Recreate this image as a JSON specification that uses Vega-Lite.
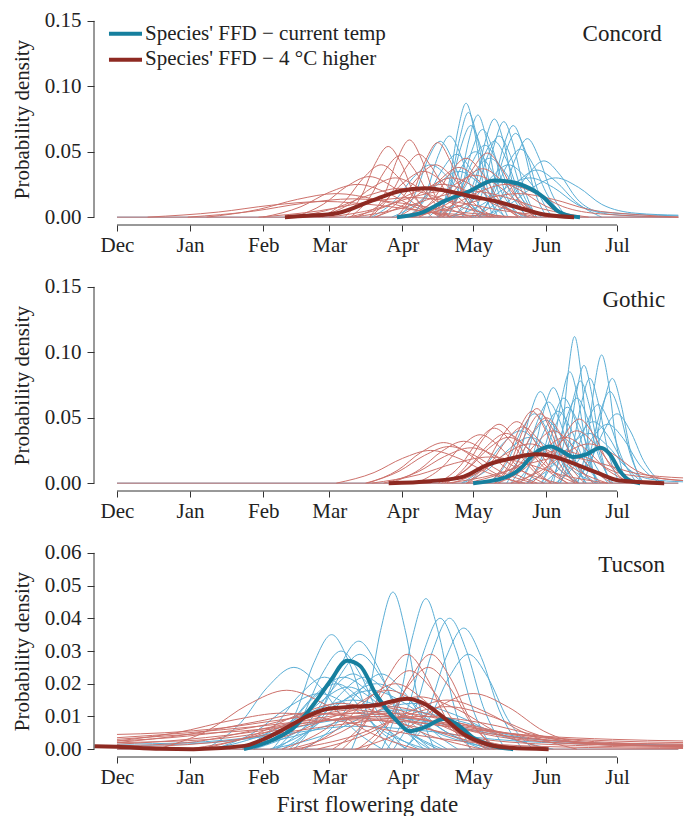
{
"$schema":"https://vega.github.io/schema/vega-lite/v6.json",
"padding":{"left":11,"top":9,"right":0,"bottom":0},
"config":{"view":{"stroke":null},"font":"Liberation Serif",
"axis":{"domain":false,"grid":false,"labelFont":"Liberation Serif","labelFontSize":21,"labelColor":"#222","tickColor":"#333","titleFont":"Liberation Serif","titleFontSize":21,"titleFontWeight":"normal","titleColor":"#222"},
"axisX":{"tickSize":6,"labelPadding":3},
"axisY":{"tickSize":7,"labelPadding":6,"titlePadding":12},
"text":{"font":"Liberation Serif","color":"#222"}},
"datasets":{
"C":[
{"s":"b0","x":0,"y":0},{"s":"b0","x":238,"y":0},{"s":"r0","x":0,"y":0},{"s":"r0","x":238,"y":0},
{"s":"b1","x":136.5,"y":0},{"s":"b1","x":141,"y":0.028},{"s":"b1","x":144.5,"y":0.066},{"s":"b1","x":148,"y":0.087},{"s":"b1","x":151.5,"y":0.066},{"s":"b1","x":155,"y":0.028},{"s":"b1","x":159.5,"y":0},
{"s":"b2","x":136.5,"y":0},{"s":"b2","x":141.5,"y":0.026},{"s":"b2","x":145.3,"y":0.06},{"s":"b2","x":149,"y":0.08},{"s":"b2","x":152.8,"y":0.06},{"s":"b2","x":156.5,"y":0.026},{"s":"b2","x":161.5,"y":0},
{"s":"b3","x":146.7,"y":0},{"s":"b3","x":152,"y":0.024},{"s":"b3","x":156,"y":0.057},{"s":"b3","x":160,"y":0.075},{"s":"b3","x":164,"y":0.057},{"s":"b3","x":168,"y":0.024},{"s":"b3","x":173.3,"y":0},
{"s":"b4","x":150.3,"y":0},{"s":"b4","x":155.8,"y":0.024},{"s":"b4","x":159.9,"y":0.055},{"s":"b4","x":164,"y":0.073},{"s":"b4","x":168.1,"y":0.055},{"s":"b4","x":172.3,"y":0.024},{"s":"b4","x":177.8,"y":0},
{"s":"b5","x":140,"y":0},{"s":"b5","x":146,"y":0.022},{"s":"b5","x":150.5,"y":0.051},{"s":"b5","x":155,"y":0.067},{"s":"b5","x":159.5,"y":0.051},{"s":"b5","x":164,"y":0.022},{"s":"b5","x":170,"y":0},
{"s":"b6","x":157.4,"y":0},{"s":"b6","x":164,"y":0.0195},{"s":"b6","x":169,"y":0.045},{"s":"b6","x":174,"y":0.06},{"s":"b6","x":179,"y":0.045},{"s":"b6","x":184,"y":0.0195},{"s":"b6","x":190.6,"y":0},
{"s":"b7","x":158,"y":0},{"s":"b7","x":167,"y":0.014},{"s":"b7","x":174,"y":0.032},{"s":"b7","x":181,"y":0.043},{"s":"b7","x":188,"y":0.032},{"s":"b7","x":195,"y":0.014},{"s":"b7","x":205,"y":0.004},{"s":"b7","x":238,"y":0.001},
{"s":"b8","x":153.5,"y":0},{"s":"b8","x":159.7,"y":0.021},{"s":"b8","x":164.4,"y":0.048},{"s":"b8","x":169,"y":0.064},{"s":"b8","x":173.7,"y":0.048},{"s":"b8","x":178.3,"y":0.021},{"s":"b8","x":184.5,"y":0},
{"s":"b9","x":125,"y":0},{"s":"b9","x":131.4,"y":0.02},{"s":"b9","x":136.2,"y":0.047},{"s":"b9","x":141,"y":0.062},{"s":"b9","x":145.8,"y":0.047},{"s":"b9","x":150.6,"y":0.02},{"s":"b9","x":157,"y":0},
{"s":"b10","x":119.8,"y":0},{"s":"b10","x":126.7,"y":0.019},{"s":"b10","x":131.8,"y":0.044},{"s":"b10","x":137,"y":0.058},{"s":"b10","x":142.2,"y":0.044},{"s":"b10","x":147.4,"y":0.019},{"s":"b10","x":154.3,"y":0},
{"s":"b11","x":132,"y":0},{"s":"b11","x":140,"y":0.016},{"s":"b11","x":146,"y":0.038},{"s":"b11","x":152,"y":0.05},{"s":"b11","x":158,"y":0.038},{"s":"b11","x":164,"y":0.016},{"s":"b11","x":172,"y":0},
{"s":"b12","x":136,"y":0},{"s":"b12","x":144.6,"y":0.0146},{"s":"b12","x":151.3,"y":0.034},{"s":"b12","x":158,"y":0.045},{"s":"b12","x":164.7,"y":0.034},{"s":"b12","x":171.4,"y":0.0146},{"s":"b12","x":180,"y":0},
{"s":"b13","x":141,"y":0},{"s":"b13","x":151,"y":0.013},{"s":"b13","x":158.5,"y":0.03},{"s":"b13","x":166,"y":0.04},{"s":"b13","x":173.5,"y":0.03},{"s":"b13","x":181,"y":0.013},{"s":"b13","x":191,"y":0},
{"s":"b14","x":116.5,"y":0},{"s":"b14","x":128,"y":0.0114},{"s":"b14","x":136.5,"y":0.026},{"s":"b14","x":145,"y":0.035},{"s":"b14","x":153.5,"y":0.026},{"s":"b14","x":162,"y":0.0114},{"s":"b14","x":173.5,"y":0},
{"s":"b15","x":142,"y":0},{"s":"b15","x":155,"y":0.0098},{"s":"b15","x":165,"y":0.0227},{"s":"b15","x":175,"y":0.03},{"s":"b15","x":185,"y":0.0227},{"s":"b15","x":195,"y":0.0098},{"s":"b15","x":210,"y":0.002},{"s":"b15","x":235,"y":0},
{"s":"b16","x":138,"y":0},{"s":"b16","x":145,"y":0.018},{"s":"b16","x":150.5,"y":0.0415},{"s":"b16","x":156,"y":0.055},{"s":"b16","x":161.5,"y":0.0415},{"s":"b16","x":167,"y":0.018},{"s":"b16","x":174,"y":0},
{"s":"b17","x":135.75,"y":0},{"s":"b17","x":141.5,"y":0.0228},{"s":"b17","x":145.7,"y":0.053},{"s":"b17","x":150,"y":0.07},{"s":"b17","x":154.3,"y":0.053},{"s":"b17","x":158.5,"y":0.0228},{"s":"b17","x":164.25,"y":0},
{"s":"b18","x":146,"y":0},{"s":"b18","x":152.4,"y":0.02},{"s":"b18","x":157.2,"y":0.047},{"s":"b18","x":162,"y":0.062},{"s":"b18","x":166.8,"y":0.047},{"s":"b18","x":171.6,"y":0.02},{"s":"b18","x":178,"y":0},
{"s":"b19","x":151.75,"y":0},{"s":"b19","x":159.5,"y":0.0169},{"s":"b19","x":165.2,"y":0.039},{"s":"b19","x":171,"y":0.052},{"s":"b19","x":176.8,"y":0.039},{"s":"b19","x":182.5,"y":0.0169},{"s":"b19","x":190.25,"y":0},
{"s":"b20","x":123.25,"y":0},{"s":"b20","x":131.5,"y":0.0156},{"s":"b20","x":137.8,"y":0.036},{"s":"b20","x":144,"y":0.048},{"s":"b20","x":150.2,"y":0.036},{"s":"b20","x":156.5,"y":0.0156},{"s":"b20","x":164.75,"y":0},
{"s":"b21","x":150.5,"y":0},{"s":"b21","x":161.5,"y":0.0117},{"s":"b21","x":169.75,"y":0.027},{"s":"b21","x":178,"y":0.036},{"s":"b21","x":186.25,"y":0.027},{"s":"b21","x":194.5,"y":0.0117},{"s":"b21","x":205.5,"y":0},
{"s":"b22","x":108,"y":0},{"s":"b22","x":118,"y":0.013},{"s":"b22","x":125.5,"y":0.03},{"s":"b22","x":133,"y":0.04},{"s":"b22","x":140.5,"y":0.03},{"s":"b22","x":148,"y":0.013},{"s":"b22","x":158,"y":0},
{"s":"b23","x":153.5,"y":0},{"s":"b23","x":166.5,"y":0.0098},{"s":"b23","x":176.25,"y":0.0227},{"s":"b23","x":186,"y":0.03},{"s":"b23","x":195.75,"y":0.0227},{"s":"b23","x":205.5,"y":0.0098},{"s":"b23","x":220,"y":0.003},{"s":"b23","x":238,"y":0.0015},
{"s":"b24","x":142.75,"y":0},{"s":"b24","x":149.65,"y":0.0189},{"s":"b24","x":154.8,"y":0.0438},{"s":"b24","x":160,"y":0.058},{"s":"b24","x":165.2,"y":0.0438},{"s":"b24","x":170.35,"y":0.0189},{"s":"b24","x":177.25,"y":0},
{"s":"b25","x":140.25,"y":0},{"s":"b25","x":145.3,"y":0.0254},{"s":"b25","x":149.2,"y":0.0589},{"s":"b25","x":153,"y":0.078},{"s":"b25","x":156.8,"y":0.0589},{"s":"b25","x":160.7,"y":0.0254},{"s":"b25","x":165.75,"y":0},
{"s":"b26","x":153.75,"y":0},{"s":"b26","x":159.5,"y":0.0228},{"s":"b26","x":163.7,"y":0.053},{"s":"b26","x":168,"y":0.07},{"s":"b26","x":172.3,"y":0.053},{"s":"b26","x":176.5,"y":0.0228},{"s":"b26","x":182.25,"y":0},
{"s":"r1","x":96.5,"y":0},{"s":"r1","x":104,"y":0.0175},{"s":"r1","x":109.5,"y":0.041},{"s":"r1","x":115,"y":0.054},{"s":"r1","x":120.5,"y":0.041},{"s":"r1","x":126,"y":0.0175},{"s":"r1","x":133.5,"y":0},
{"s":"r2","x":107,"y":0},{"s":"r2","x":113.8,"y":0.019},{"s":"r2","x":118.9,"y":0.0445},{"s":"r2","x":124,"y":0.059},{"s":"r2","x":129.1,"y":0.0445},{"s":"r2","x":134.2,"y":0.019},{"s":"r2","x":141,"y":0},
{"s":"r3","x":118.5,"y":0},{"s":"r3","x":125.5,"y":0.0185},{"s":"r3","x":130.75,"y":0.043},{"s":"r3","x":136,"y":0.057},{"s":"r3","x":141.25,"y":0.043},{"s":"r3","x":146.5,"y":0.0185},{"s":"r3","x":153.5,"y":0},
{"s":"r4","x":99,"y":0},{"s":"r4","x":107.25,"y":0.0153},{"s":"r4","x":113.6,"y":0.0355},{"s":"r4","x":120,"y":0.047},{"s":"r4","x":126.4,"y":0.0355},{"s":"r4","x":132.75,"y":0.0153},{"s":"r4","x":141,"y":0},
{"s":"r5","x":137,"y":0},{"s":"r5","x":144.8,"y":0.016},{"s":"r5","x":150.9,"y":0.037},{"s":"r5","x":157,"y":0.049},{"s":"r5","x":163.1,"y":0.037},{"s":"r5","x":169.2,"y":0.016},{"s":"r5","x":177,"y":0},
{"s":"r6","x":126,"y":0},{"s":"r6","x":134.6,"y":0.0146},{"s":"r6","x":141.3,"y":0.034},{"s":"r6","x":148,"y":0.045},{"s":"r6","x":154.7,"y":0.034},{"s":"r6","x":161.4,"y":0.0146},{"s":"r6","x":170,"y":0},
{"s":"r7","x":38,"y":0},{"s":"r7","x":60,"y":0.0059},{"s":"r7","x":76.5,"y":0.0136},{"s":"r7","x":93,"y":0.018},{"s":"r7","x":109.5,"y":0.0136},{"s":"r7","x":126,"y":0.0059},{"s":"r7","x":148,"y":0},
{"s":"r8","x":30,"y":0},{"s":"r8","x":58,"y":0.0046},{"s":"r8","x":79,"y":0.0106},{"s":"r8","x":100,"y":0.014},{"s":"r8","x":121,"y":0.0106},{"s":"r8","x":142,"y":0.0046},{"s":"r8","x":170,"y":0},
{"s":"r9","x":75,"y":0},{"s":"r9","x":87.6,"y":0.01},{"s":"r9","x":97.3,"y":0.0234},{"s":"r9","x":107,"y":0.031},{"s":"r9","x":116.7,"y":0.0234},{"s":"r9","x":126.4,"y":0.01},{"s":"r9","x":139,"y":0},
{"s":"r10","x":62,"y":0},{"s":"r10","x":78,"y":0.008},{"s":"r10","x":90,"y":0.019},{"s":"r10","x":102,"y":0.025},{"s":"r10","x":114,"y":0.019},{"s":"r10","x":126,"y":0.008},{"s":"r10","x":142,"y":0},
{"s":"r11","x":101.5,"y":0},{"s":"r11","x":113,"y":0.0114},{"s":"r11","x":121.5,"y":0.0264},{"s":"r11","x":130,"y":0.035},{"s":"r11","x":138.5,"y":0.0264},{"s":"r11","x":147,"y":0.0114},{"s":"r11","x":158.5,"y":0},
{"s":"r12","x":109,"y":0},{"s":"r12","x":122,"y":0.0098},{"s":"r12","x":132,"y":0.0227},{"s":"r12","x":142,"y":0.03},{"s":"r12","x":152,"y":0.0227},{"s":"r12","x":162,"y":0.0098},{"s":"r12","x":175,"y":0},
{"s":"r13","x":125,"y":0},{"s":"r13","x":139,"y":0.0091},{"s":"r13","x":149.5,"y":0.021},{"s":"r13","x":160,"y":0.028},{"s":"r13","x":170.5,"y":0.021},{"s":"r13","x":181,"y":0.0091},{"s":"r13","x":195,"y":0},
{"s":"r14","x":75,"y":0},{"s":"r14","x":93,"y":0.0072},{"s":"r14","x":106.5,"y":0.0166},{"s":"r14","x":120,"y":0.022},{"s":"r14","x":133.5,"y":0.0166},{"s":"r14","x":147,"y":0.0072},{"s":"r14","x":165,"y":0},
{"s":"r15","x":110,"y":0},{"s":"r15","x":120,"y":0.013},{"s":"r15","x":127.5,"y":0.03},{"s":"r15","x":135,"y":0.04},{"s":"r15","x":142.5,"y":0.03},{"s":"r15","x":150,"y":0.013},{"s":"r15","x":160,"y":0},
{"s":"r16","x":100,"y":0},{"s":"r16","x":120,"y":0.0065},{"s":"r16","x":135,"y":0.0151},{"s":"r16","x":150,"y":0.02},{"s":"r16","x":165,"y":0.0151},{"s":"r16","x":180,"y":0.0065},{"s":"r16","x":200,"y":0},
{"s":"r17","x":87,"y":0},{"s":"r17","x":97,"y":0.013},{"s":"r17","x":104.5,"y":0.03},{"s":"r17","x":112,"y":0.04},{"s":"r17","x":119.5,"y":0.03},{"s":"r17","x":127,"y":0.013},{"s":"r17","x":137,"y":0},
{"s":"r18","x":107.25,"y":0},{"s":"r18","x":115.5,"y":0.0156},{"s":"r18","x":121.8,"y":0.036},{"s":"r18","x":128,"y":0.048},{"s":"r18","x":134.2,"y":0.036},{"s":"r18","x":140.5,"y":0.0156},{"s":"r18","x":148.75,"y":0},
{"s":"r19","x":118.75,"y":0},{"s":"r19","x":129.25,"y":0.0124},{"s":"r19","x":137.1,"y":0.0287},{"s":"r19","x":145,"y":0.038},{"s":"r19","x":152.9,"y":0.0287},{"s":"r19","x":160.75,"y":0.0124},{"s":"r19","x":171.25,"y":0},
{"s":"r20","x":120.75,"y":0},{"s":"r20","x":133.25,"y":0.0104},{"s":"r20","x":142.6,"y":0.0242},{"s":"r20","x":152,"y":0.032},{"s":"r20","x":161.4,"y":0.0242},{"s":"r20","x":170.75,"y":0.0104},{"s":"r20","x":183.25,"y":0},
{"s":"r21","x":125,"y":0},{"s":"r21","x":141,"y":0.0081},{"s":"r21","x":153,"y":0.0189},{"s":"r21","x":165,"y":0.025},{"s":"r21","x":177,"y":0.0189},{"s":"r21","x":189,"y":0.0081},{"s":"r21","x":205,"y":0.0025},{"s":"r21","x":238,"y":0},
{"s":"r22","x":98,"y":0},{"s":"r22","x":114,"y":0.0081},{"s":"r22","x":126,"y":0.0189},{"s":"r22","x":138,"y":0.025},{"s":"r22","x":150,"y":0.0189},{"s":"r22","x":162,"y":0.0081},{"s":"r22","x":178,"y":0},
{"s":"r23","x":85.5,"y":0},{"s":"r23","x":98.5,"y":0.0098},{"s":"r23","x":108.25,"y":0.0227},{"s":"r23","x":118,"y":0.03},{"s":"r23","x":127.75,"y":0.0227},{"s":"r23","x":137.5,"y":0.0098},{"s":"r23","x":150.5,"y":0},
{"s":"r24","x":90,"y":0},{"s":"r24","x":110,"y":0.0065},{"s":"r24","x":125,"y":0.0151},{"s":"r24","x":140,"y":0.02},{"s":"r24","x":155,"y":0.0151},{"s":"r24","x":170,"y":0.0065},{"s":"r24","x":190,"y":0},
{"s":"r25","x":60,"y":0},{"s":"r25","x":86,"y":0.0049},{"s":"r25","x":105.5,"y":0.0113},{"s":"r25","x":125,"y":0.015},{"s":"r25","x":144.5,"y":0.0113},{"s":"r25","x":164,"y":0.0049},{"s":"r25","x":190,"y":0},
{"s":"r26","x":128,"y":0},{"s":"r26","x":138.8,"y":0.012},{"s":"r26","x":146.9,"y":0.028},{"s":"r26","x":155,"y":0.037},{"s":"r26","x":163.1,"y":0.028},{"s":"r26","x":171.2,"y":0.012},{"s":"r26","x":182,"y":0},
{"s":"r27","x":13,"y":0},{"s":"r27","x":43,"y":0.0039},{"s":"r27","x":65.5,"y":0.0091},{"s":"r27","x":88,"y":0.012},{"s":"r27","x":110.5,"y":0.0091},{"s":"r27","x":133,"y":0.0039},{"s":"r27","x":163,"y":0},
{"s":"r28","x":120,"y":0},{"s":"r28","x":140,"y":0.0059},{"s":"r28","x":155,"y":0.0136},{"s":"r28","x":170,"y":0.018},{"s":"r28","x":185,"y":0.0136},{"s":"r28","x":200,"y":0.0059},{"s":"r28","x":220,"y":0.002},{"s":"r28","x":238,"y":0},
{"s":"B","x":118.7,"y":0},{"s":"B","x":128.5,"y":0.003},{"s":"B","x":138.6,"y":0.012},{"s":"B","x":149.7,"y":0.02},{"s":"B","x":159.8,"y":0.028},{"s":"B","x":166.6,"y":0.027},{"s":"B","x":175,"y":0.022},{"s":"B","x":181,"y":0.015},{"s":"B","x":186.6,"y":0.005},{"s":"B","x":192,"y":0.001},{"s":"B","x":196.3,"y":0},
{"s":"R","x":71.2,"y":0},{"s":"R","x":80.5,"y":0.001},{"s":"R","x":93.3,"y":0.003},{"s":"R","x":107.3,"y":0.012},{"s":"R","x":120,"y":0.02},{"s":"R","x":130.6,"y":0.022},{"s":"R","x":140,"y":0.02},{"s":"R","x":149.7,"y":0.016},{"s":"R","x":161,"y":0.012},{"s":"R","x":172.6,"y":0.006},{"s":"R","x":181,"y":0.002},{"s":"R","x":193.8,"y":0}
],
"G":[
{"s":"b0","x":0,"y":0},{"s":"b0","x":238,"y":0},{"s":"r0","x":0,"y":0},{"s":"r0","x":238,"y":0},
{"s":"b1","x":185,"y":0},{"s":"b1","x":188.6,"y":0.0364},{"s":"b1","x":191.3,"y":0.0846},{"s":"b1","x":194,"y":0.112},{"s":"b1","x":196.7,"y":0.0846},{"s":"b1","x":199.4,"y":0.0364},{"s":"b1","x":203,"y":0},
{"s":"b2","x":195.3,"y":0},{"s":"b2","x":199.4,"y":0.032},{"s":"b2","x":202.4,"y":0.074},{"s":"b2","x":205.5,"y":0.098},{"s":"b2","x":208.6,"y":0.074},{"s":"b2","x":211.6,"y":0.032},{"s":"b2","x":215.7,"y":0},
{"s":"b3","x":188,"y":0},{"s":"b3","x":193,"y":0.026},{"s":"b3","x":196.75,"y":0.06},{"s":"b3","x":200.5,"y":0.08},{"s":"b3","x":204.25,"y":0.06},{"s":"b3","x":208,"y":0.026},{"s":"b3","x":213,"y":0},
{"s":"b4","x":165.25,"y":0},{"s":"b4","x":171,"y":0.0228},{"s":"b4","x":175.2,"y":0.053},{"s":"b4","x":179.5,"y":0.07},{"s":"b4","x":183.8,"y":0.053},{"s":"b4","x":188,"y":0.0228},{"s":"b4","x":193.75,"y":0},
{"s":"b5","x":171.25,"y":0},{"s":"b5","x":176.75,"y":0.0237},{"s":"b5","x":180.9,"y":0.055},{"s":"b5","x":185,"y":0.073},{"s":"b5","x":189.1,"y":0.055},{"s":"b5","x":193.25,"y":0.0237},{"s":"b5","x":198.75,"y":0},
{"s":"b6","x":174.2,"y":0},{"s":"b6","x":180.3,"y":0.0211},{"s":"b6","x":184.9,"y":0.049},{"s":"b6","x":189.5,"y":0.065},{"s":"b6","x":194.1,"y":0.049},{"s":"b6","x":198.7,"y":0.0211},{"s":"b6","x":204.8,"y":0},
{"s":"b7","x":183.7,"y":0},{"s":"b7","x":188.8,"y":0.0254},{"s":"b7","x":192.7,"y":0.059},{"s":"b7","x":196.5,"y":0.078},{"s":"b7","x":200.3,"y":0.059},{"s":"b7","x":204.2,"y":0.0254},{"s":"b7","x":209.3,"y":0},
{"s":"b8","x":194.75,"y":0},{"s":"b8","x":200.5,"y":0.0228},{"s":"b8","x":204.7,"y":0.053},{"s":"b8","x":209,"y":0.07},{"s":"b8","x":213.3,"y":0.053},{"s":"b8","x":217.5,"y":0.0228},{"s":"b8","x":223.25,"y":0},
{"s":"b9","x":193.25,"y":0},{"s":"b9","x":200.75,"y":0.0172},{"s":"b9","x":206.4,"y":0.04},{"s":"b9","x":212,"y":0.053},{"s":"b9","x":217.6,"y":0.04},{"s":"b9","x":223.25,"y":0.0172},{"s":"b9","x":230.75,"y":0},
{"s":"b10","x":158.25,"y":0},{"s":"b10","x":165.75,"y":0.0172},{"s":"b10","x":171.4,"y":0.04},{"s":"b10","x":177,"y":0.053},{"s":"b10","x":182.6,"y":0.04},{"s":"b10","x":188.25,"y":0.0172},{"s":"b10","x":195.75,"y":0},
{"s":"b11","x":146,"y":0},{"s":"b11","x":156,"y":0.013},{"s":"b11","x":163.5,"y":0.03},{"s":"b11","x":171,"y":0.04},{"s":"b11","x":178.5,"y":0.03},{"s":"b11","x":186,"y":0.013},{"s":"b11","x":196,"y":0},
{"s":"b12","x":180.75,"y":0},{"s":"b12","x":189.25,"y":0.0153},{"s":"b12","x":195.6,"y":0.0355},{"s":"b12","x":202,"y":0.047},{"s":"b12","x":208.4,"y":0.0355},{"s":"b12","x":214.75,"y":0.0153},{"s":"b12","x":223.25,"y":0},
{"s":"b13","x":173.75,"y":0},{"s":"b13","x":180.65,"y":0.0189},{"s":"b13","x":185.8,"y":0.0438},{"s":"b13","x":191,"y":0.058},{"s":"b13","x":196.2,"y":0.0438},{"s":"b13","x":201.35,"y":0.0189},{"s":"b13","x":208.25,"y":0},
{"s":"b14","x":167,"y":0},{"s":"b14","x":173.4,"y":0.02},{"s":"b14","x":178.2,"y":0.047},{"s":"b14","x":183,"y":0.062},{"s":"b14","x":187.8,"y":0.047},{"s":"b14","x":192.6,"y":0.02},{"s":"b14","x":199,"y":0},
{"s":"b15","x":187,"y":0},{"s":"b15","x":191.4,"y":0.029},{"s":"b15","x":194.7,"y":0.068},{"s":"b15","x":198,"y":0.09},{"s":"b15","x":201.3,"y":0.068},{"s":"b15","x":204.6,"y":0.029},{"s":"b15","x":209,"y":0},
{"s":"b16","x":187.5,"y":0},{"s":"b16","x":194,"y":0.0195},{"s":"b16","x":199,"y":0.045},{"s":"b16","x":204,"y":0.06},{"s":"b16","x":209,"y":0.045},{"s":"b16","x":214,"y":0.0195},{"s":"b16","x":220.5,"y":0},
{"s":"b17","x":179.75,"y":0},{"s":"b17","x":185.85,"y":0.0211},{"s":"b17","x":190.4,"y":0.049},{"s":"b17","x":195,"y":0.065},{"s":"b17","x":199.6,"y":0.049},{"s":"b17","x":204.15,"y":0.0211},{"s":"b17","x":210.25,"y":0},
{"s":"b18","x":169,"y":0},{"s":"b18","x":176.2,"y":0.0179},{"s":"b18","x":181.6,"y":0.0415},{"s":"b18","x":187,"y":0.055},{"s":"b18","x":192.4,"y":0.0415},{"s":"b18","x":197.8,"y":0.0179},{"s":"b18","x":205,"y":0},
{"s":"b19","x":185.75,"y":0},{"s":"b19","x":194.65,"y":0.0146},{"s":"b19","x":201.3,"y":0.034},{"s":"b19","x":208,"y":0.045},{"s":"b19","x":214.7,"y":0.034},{"s":"b19","x":221.35,"y":0.0146},{"s":"b19","x":230.25,"y":0},
{"s":"b20","x":161.25,"y":0},{"s":"b20","x":169.5,"y":0.0156},{"s":"b20","x":175.8,"y":0.036},{"s":"b20","x":182,"y":0.048},{"s":"b20","x":188.2,"y":0.036},{"s":"b20","x":194.5,"y":0.0156},{"s":"b20","x":202.75,"y":0},
{"s":"b21","x":173.75,"y":0},{"s":"b21","x":184.25,"y":0.0124},{"s":"b21","x":192.1,"y":0.0287},{"s":"b21","x":200,"y":0.038},{"s":"b21","x":207.9,"y":0.0287},{"s":"b21","x":215.75,"y":0.0124},{"s":"b21","x":226.25,"y":0.003},{"s":"b21","x":240,"y":0.001},
{"s":"b22","x":180.25,"y":0},{"s":"b22","x":185,"y":0.0276},{"s":"b22","x":188.5,"y":0.0642},{"s":"b22","x":192,"y":0.085},{"s":"b22","x":195.5,"y":0.0642},{"s":"b22","x":199,"y":0.0276},{"s":"b22","x":203.75,"y":0},
{"s":"b23","x":146.5,"y":0},{"s":"b23","x":158,"y":0.0114},{"s":"b23","x":166.5,"y":0.0264},{"s":"b23","x":175,"y":0.035},{"s":"b23","x":183.5,"y":0.0264},{"s":"b23","x":192,"y":0.0114},{"s":"b23","x":203.5,"y":0},
{"s":"b24","x":197.5,"y":0},{"s":"b24","x":202.5,"y":0.026},{"s":"b24","x":206.25,"y":0.06},{"s":"b24","x":210,"y":0.08},{"s":"b24","x":213.75,"y":0.06},{"s":"b24","x":217.5,"y":0.026},{"s":"b24","x":222.5,"y":0},
{"s":"r1","x":106.25,"y":0},{"s":"r1","x":119.15,"y":0.01},{"s":"r1","x":128.8,"y":0.0234},{"s":"r1","x":138.5,"y":0.031},{"s":"r1","x":148.2,"y":0.0234},{"s":"r1","x":157.85,"y":0.01},{"s":"r1","x":170.75,"y":0},
{"s":"r2","x":105.4,"y":0},{"s":"r2","x":119.6,"y":0.0091},{"s":"r2","x":130.3,"y":0.0211},{"s":"r2","x":141,"y":0.028},{"s":"r2","x":151.7,"y":0.0211},{"s":"r2","x":162.4,"y":0.0091},{"s":"r2","x":176.6,"y":0},
{"s":"r3","x":136.25,"y":0},{"s":"r3","x":145.75,"y":0.0137},{"s":"r3","x":152.9,"y":0.0317},{"s":"r3","x":160,"y":0.042},{"s":"r3","x":167.1,"y":0.0317},{"s":"r3","x":174.25,"y":0.0137},{"s":"r3","x":183.75,"y":0},
{"s":"r4","x":139.75,"y":0},{"s":"r4","x":148.65,"y":0.0146},{"s":"r4","x":155.3,"y":0.034},{"s":"r4","x":162,"y":0.045},{"s":"r4","x":168.7,"y":0.034},{"s":"r4","x":175.35,"y":0.0146},{"s":"r4","x":184.25,"y":0},
{"s":"r5","x":148.25,"y":0},{"s":"r5","x":156.75,"y":0.0153},{"s":"r5","x":163.1,"y":0.0355},{"s":"r5","x":169.5,"y":0.047},{"s":"r5","x":175.9,"y":0.0355},{"s":"r5","x":182.25,"y":0.0153},{"s":"r5","x":190.75,"y":0},
{"s":"r6","x":160.5,"y":0},{"s":"r6","x":167.5,"y":0.0185},{"s":"r6","x":172.75,"y":0.043},{"s":"r6","x":178,"y":0.057},{"s":"r6","x":183.25,"y":0.043},{"s":"r6","x":188.5,"y":0.0185},{"s":"r6","x":195.5,"y":0},
{"s":"r7","x":160.75,"y":0},{"s":"r7","x":168.25,"y":0.0172},{"s":"r7","x":173.9,"y":0.04},{"s":"r7","x":179.5,"y":0.053},{"s":"r7","x":185.1,"y":0.04},{"s":"r7","x":190.75,"y":0.0172},{"s":"r7","x":198.25,"y":0},
{"s":"r8","x":162,"y":0},{"s":"r8","x":170,"y":0.0163},{"s":"r8","x":176,"y":0.0378},{"s":"r8","x":182,"y":0.05},{"s":"r8","x":188,"y":0.0378},{"s":"r8","x":194,"y":0.0163},{"s":"r8","x":202,"y":0},
{"s":"r9","x":175.75,"y":0},{"s":"r9","x":183.8,"y":0.016},{"s":"r9","x":189.9,"y":0.037},{"s":"r9","x":196,"y":0.049},{"s":"r9","x":202.1,"y":0.037},{"s":"r9","x":208.2,"y":0.016},{"s":"r9","x":216.25,"y":0},
{"s":"r10","x":170,"y":0},{"s":"r10","x":180,"y":0.013},{"s":"r10","x":187.5,"y":0.03},{"s":"r10","x":195,"y":0.04},{"s":"r10","x":202.5,"y":0.03},{"s":"r10","x":210,"y":0.013},{"s":"r10","x":220,"y":0},
{"s":"r11","x":127,"y":0},{"s":"r11","x":137.8,"y":0.012},{"s":"r11","x":145.9,"y":0.028},{"s":"r11","x":154,"y":0.037},{"s":"r11","x":162.1,"y":0.028},{"s":"r11","x":170.2,"y":0.012},{"s":"r11","x":181,"y":0},
{"s":"r12","x":115.75,"y":0},{"s":"r12","x":128.25,"y":0.0104},{"s":"r12","x":137.6,"y":0.0242},{"s":"r12","x":147,"y":0.032},{"s":"r12","x":156.4,"y":0.0242},{"s":"r12","x":165.75,"y":0.0104},{"s":"r12","x":178.25,"y":0},
{"s":"r13","x":142,"y":0},{"s":"r13","x":155,"y":0.0098},{"s":"r13","x":165,"y":0.0227},{"s":"r13","x":175,"y":0.03},{"s":"r13","x":185,"y":0.0227},{"s":"r13","x":195,"y":0.0098},{"s":"r13","x":208,"y":0},
{"s":"r14","x":148,"y":0},{"s":"r14","x":164,"y":0.0081},{"s":"r14","x":176,"y":0.0189},{"s":"r14","x":188,"y":0.025},{"s":"r14","x":200,"y":0.0189},{"s":"r14","x":212,"y":0.0081},{"s":"r14","x":228,"y":0.004},{"s":"r14","x":240,"y":0.002},
{"s":"r15","x":140,"y":0},{"s":"r15","x":160,"y":0.0065},{"s":"r15","x":175,"y":0.0151},{"s":"r15","x":190,"y":0.02},{"s":"r15","x":205,"y":0.0151},{"s":"r15","x":220,"y":0.0075},{"s":"r15","x":240,"y":0.004},
{"s":"r16","x":137.5,"y":0},{"s":"r16","x":149,"y":0.0114},{"s":"r16","x":157.5,"y":0.0264},{"s":"r16","x":166,"y":0.035},{"s":"r16","x":174.5,"y":0.0264},{"s":"r16","x":183,"y":0.0114},{"s":"r16","x":194.5,"y":0},
{"s":"r17","x":148.75,"y":0},{"s":"r17","x":158,"y":0.014},{"s":"r17","x":165,"y":0.0325},{"s":"r17","x":172,"y":0.043},{"s":"r17","x":179,"y":0.0325},{"s":"r17","x":186,"y":0.014},{"s":"r17","x":195.25,"y":0},
{"s":"r18","x":160,"y":0},{"s":"r18","x":170,"y":0.013},{"s":"r18","x":177.5,"y":0.03},{"s":"r18","x":185,"y":0.04},{"s":"r18","x":192.5,"y":0.03},{"s":"r18","x":200,"y":0.013},{"s":"r18","x":210,"y":0},
{"s":"r19","x":158,"y":0},{"s":"r19","x":165.2,"y":0.0179},{"s":"r19","x":170.6,"y":0.0415},{"s":"r19","x":176,"y":0.055},{"s":"r19","x":181.4,"y":0.0415},{"s":"r19","x":186.8,"y":0.0179},{"s":"r19","x":194,"y":0},
{"s":"r20","x":138.75,"y":0},{"s":"r20","x":149.25,"y":0.0124},{"s":"r20","x":157.1,"y":0.0287},{"s":"r20","x":165,"y":0.038},{"s":"r20","x":172.9,"y":0.0287},{"s":"r20","x":180.75,"y":0.0124},{"s":"r20","x":191.25,"y":0},
{"s":"r21","x":113,"y":0},{"s":"r21","x":127.8,"y":0.0088},{"s":"r21","x":138.9,"y":0.0204},{"s":"r21","x":150,"y":0.027},{"s":"r21","x":161.1,"y":0.0204},{"s":"r21","x":172.2,"y":0.0088},{"s":"r21","x":187,"y":0},
{"s":"r22","x":93,"y":0},{"s":"r22","x":109,"y":0.0081},{"s":"r22","x":121,"y":0.0189},{"s":"r22","x":133,"y":0.025},{"s":"r22","x":145,"y":0.0189},{"s":"r22","x":157,"y":0.0081},{"s":"r22","x":173,"y":0},
{"s":"r23","x":167,"y":0},{"s":"r23","x":180,"y":0.0098},{"s":"r23","x":190,"y":0.0227},{"s":"r23","x":200,"y":0.03},{"s":"r23","x":210,"y":0.0227},{"s":"r23","x":220,"y":0.0098},{"s":"r23","x":233,"y":0.003},{"s":"r23","x":240,"y":0.002},
{"s":"r24","x":108,"y":0},{"s":"r24","x":128,"y":0.0065},{"s":"r24","x":143,"y":0.0151},{"s":"r24","x":158,"y":0.02},{"s":"r24","x":173,"y":0.0151},{"s":"r24","x":188,"y":0.0065},{"s":"r24","x":208,"y":0},
{"s":"r25","x":161.5,"y":0},{"s":"r25","x":173,"y":0.0114},{"s":"r25","x":181.5,"y":0.0264},{"s":"r25","x":190,"y":0.035},{"s":"r25","x":198.5,"y":0.0264},{"s":"r25","x":207,"y":0.0114},{"s":"r25","x":218.5,"y":0},
{"s":"B","x":151,"y":0},{"s":"B","x":164,"y":0.004},{"s":"B","x":171,"y":0.011},{"s":"B","x":176,"y":0.021},{"s":"B","x":181,"y":0.027},{"s":"B","x":184,"y":0.028},{"s":"B","x":188,"y":0.025},{"s":"B","x":193.5,"y":0.02},{"s":"B","x":199,"y":0.022},{"s":"B","x":205,"y":0.027},{"s":"B","x":209,"y":0.022},{"s":"B","x":213.3,"y":0.009},{"s":"B","x":217.5,"y":0.002},{"s":"B","x":221.8,"y":0},
{"s":"R","x":115.2,"y":0},{"s":"R","x":132.7,"y":0.0015},{"s":"R","x":147,"y":0.005},{"s":"R","x":157,"y":0.014},{"s":"R","x":165,"y":0.018},{"s":"R","x":178,"y":0.022},{"s":"R","x":183.6,"y":0.021},{"s":"R","x":193.7,"y":0.015},{"s":"R","x":203.5,"y":0.008},{"s":"R","x":213,"y":0.002},{"s":"R","x":232,"y":0}
],
"T":[
{"s":"b0","x":0,"y":0},{"s":"b0","x":238,"y":0},{"s":"r0","x":0,"y":0},{"s":"r0","x":238,"y":0},
{"s":"b1","x":99.5,"y":0},{"s":"b1","x":106.5,"y":0.0156},{"s":"b1","x":111.75,"y":0.0362},{"s":"b1","x":117,"y":0.048},{"s":"b1","x":122.25,"y":0.0362},{"s":"b1","x":127.5,"y":0.0156},{"s":"b1","x":134.5,"y":0},
{"s":"b2","x":112.25,"y":0},{"s":"b2","x":119.75,"y":0.015},{"s":"b2","x":125.4,"y":0.0347},{"s":"b2","x":131,"y":0.046},{"s":"b2","x":136.6,"y":0.0347},{"s":"b2","x":142.25,"y":0.015},{"s":"b2","x":149.75,"y":0},
{"s":"b3","x":114.5,"y":0},{"s":"b3","x":123.5,"y":0.013},{"s":"b3","x":130.25,"y":0.0302},{"s":"b3","x":137,"y":0.04},{"s":"b3","x":143.75,"y":0.0302},{"s":"b3","x":150.5,"y":0.013},{"s":"b3","x":159.5,"y":0},
{"s":"b4","x":117.25,"y":0},{"s":"b4","x":126.75,"y":0.013},{"s":"b4","x":133.9,"y":0.0302},{"s":"b4","x":141,"y":0.04},{"s":"b4","x":148.1,"y":0.0302},{"s":"b4","x":155.25,"y":0.013},{"s":"b4","x":164.75,"y":0},
{"s":"b5","x":122,"y":0},{"s":"b5","x":132,"y":0.012},{"s":"b5","x":139.5,"y":0.028},{"s":"b5","x":147,"y":0.037},{"s":"b5","x":154.5,"y":0.028},{"s":"b5","x":162,"y":0.012},{"s":"b5","x":172,"y":0},
{"s":"b6","x":121.5,"y":0},{"s":"b6","x":132.5,"y":0.0094},{"s":"b6","x":140.75,"y":0.0219},{"s":"b6","x":149,"y":0.029},{"s":"b6","x":157.25,"y":0.0219},{"s":"b6","x":165.5,"y":0.0094},{"s":"b6","x":176.5,"y":0},
{"s":"b7","x":66,"y":0},{"s":"b7","x":76,"y":0.0114},{"s":"b7","x":83.5,"y":0.0264},{"s":"b7","x":91,"y":0.035},{"s":"b7","x":98.5,"y":0.0264},{"s":"b7","x":106,"y":0.0114},{"s":"b7","x":116,"y":0},
{"s":"b8","x":75,"y":0},{"s":"b8","x":86,"y":0.0107},{"s":"b8","x":94.25,"y":0.0249},{"s":"b8","x":102.5,"y":0.033},{"s":"b8","x":110.75,"y":0.0249},{"s":"b8","x":119,"y":0.0107},{"s":"b8","x":130,"y":0},
{"s":"b9","x":37.5,"y":0},{"s":"b9","x":52.5,"y":0.0081},{"s":"b9","x":63.75,"y":0.0189},{"s":"b9","x":75,"y":0.025},{"s":"b9","x":86.25,"y":0.0189},{"s":"b9","x":97.5,"y":0.0081},{"s":"b9","x":112.5,"y":0},
{"s":"b10","x":73,"y":0},{"s":"b10","x":85,"y":0.0094},{"s":"b10","x":94,"y":0.0219},{"s":"b10","x":103,"y":0.029},{"s":"b10","x":112,"y":0.0219},{"s":"b10","x":121,"y":0.0094},{"s":"b10","x":133,"y":0},
{"s":"b11","x":56,"y":0},{"s":"b11","x":72,"y":0.0072},{"s":"b11","x":84,"y":0.0166},{"s":"b11","x":96,"y":0.022},{"s":"b11","x":108,"y":0.0166},{"s":"b11","x":120,"y":0.0072},{"s":"b11","x":136,"y":0},
{"s":"b12","x":65,"y":0},{"s":"b12","x":83,"y":0.0065},{"s":"b12","x":96.5,"y":0.0151},{"s":"b12","x":110,"y":0.02},{"s":"b12","x":123.5,"y":0.0151},{"s":"b12","x":137,"y":0.0065},{"s":"b12","x":155,"y":0},
{"s":"b13","x":40,"y":0},{"s":"b13","x":64,"y":0.0049},{"s":"b13","x":82,"y":0.0113},{"s":"b13","x":100,"y":0.015},{"s":"b13","x":118,"y":0.0113},{"s":"b13","x":136,"y":0.0049},{"s":"b13","x":160,"y":0},
{"s":"b14","x":45,"y":0},{"s":"b14","x":75,"y":0.0039},{"s":"b14","x":97.5,"y":0.0091},{"s":"b14","x":120,"y":0.012},{"s":"b14","x":142.5,"y":0.0091},{"s":"b14","x":165,"y":0.0045},{"s":"b14","x":195,"y":0.002},{"s":"b14","x":240,"y":0.0012},
{"s":"b15","x":53,"y":0},{"s":"b15","x":67,"y":0.0072},{"s":"b15","x":77.5,"y":0.0166},{"s":"b15","x":88,"y":0.022},{"s":"b15","x":98.5,"y":0.0166},{"s":"b15","x":109,"y":0.0072},{"s":"b15","x":123,"y":0},
{"s":"b16","x":58,"y":0},{"s":"b16","x":78,"y":0.0059},{"s":"b16","x":93,"y":0.0136},{"s":"b16","x":108,"y":0.018},{"s":"b16","x":123,"y":0.0136},{"s":"b16","x":138,"y":0.0059},{"s":"b16","x":158,"y":0},
{"s":"b17","x":0,"y":0.0015},{"s":"b17","x":30,"y":0.002},{"s":"b17","x":60,"y":0.004},{"s":"b17","x":85,"y":0.008},{"s":"b17","x":110,"y":0.01},{"s":"b17","x":135,"y":0.008},{"s":"b17","x":165,"y":0.004},{"s":"b17","x":200,"y":0.002},{"s":"b17","x":240,"y":0.0012},
{"s":"b18","x":67.5,"y":0},{"s":"b18","x":80.5,"y":0.0075},{"s":"b18","x":90.25,"y":0.0174},{"s":"b18","x":100,"y":0.023},{"s":"b18","x":109.75,"y":0.0174},{"s":"b18","x":119.5,"y":0.0075},{"s":"b18","x":132.5,"y":0},
{"s":"b19","x":58,"y":0},{"s":"b19","x":72,"y":0.0065},{"s":"b19","x":82.5,"y":0.0151},{"s":"b19","x":93,"y":0.02},{"s":"b19","x":103.5,"y":0.0151},{"s":"b19","x":114,"y":0.0065},{"s":"b19","x":128,"y":0},
{"s":"b20","x":70,"y":0},{"s":"b20","x":84,"y":0.0072},{"s":"b20","x":94.5,"y":0.0166},{"s":"b20","x":105,"y":0.022},{"s":"b20","x":115.5,"y":0.0166},{"s":"b20","x":126,"y":0.0072},{"s":"b20","x":140,"y":0},
{"s":"b21","x":58,"y":0},{"s":"b21","x":74,"y":0.0062},{"s":"b21","x":86,"y":0.0143},{"s":"b21","x":98,"y":0.019},{"s":"b21","x":110,"y":0.0143},{"s":"b21","x":122,"y":0.0062},{"s":"b21","x":138,"y":0},
{"s":"b22","x":79.5,"y":0},{"s":"b22","x":92.5,"y":0.0075},{"s":"b22","x":102.25,"y":0.0174},{"s":"b22","x":112,"y":0.023},{"s":"b22","x":121.75,"y":0.0174},{"s":"b22","x":131.5,"y":0.0075},{"s":"b22","x":144.5,"y":0},
{"s":"b23","x":41,"y":0},{"s":"b23","x":59,"y":0.0055},{"s":"b23","x":72.5,"y":0.0128},{"s":"b23","x":86,"y":0.017},{"s":"b23","x":99.5,"y":0.0128},{"s":"b23","x":113,"y":0.0055},{"s":"b23","x":131,"y":0},
{"s":"b24","x":65,"y":0},{"s":"b24","x":89,"y":0.0046},{"s":"b24","x":107,"y":0.0106},{"s":"b24","x":125,"y":0.014},{"s":"b24","x":143,"y":0.0106},{"s":"b24","x":161,"y":0.0046},{"s":"b24","x":185,"y":0},
{"s":"b25","x":67.5,"y":0},{"s":"b25","x":78.5,"y":0.0098},{"s":"b25","x":86.75,"y":0.0227},{"s":"b25","x":95,"y":0.03},{"s":"b25","x":103.25,"y":0.0227},{"s":"b25","x":111.5,"y":0.0098},{"s":"b25","x":122.5,"y":0},
{"s":"b26","x":0,"y":0.001},{"s":"b26","x":40,"y":0.002},{"s":"b26","x":75,"y":0.005},{"s":"b26","x":100,"y":0.007},{"s":"b26","x":125,"y":0.006},{"s":"b26","x":160,"y":0.003},{"s":"b26","x":200,"y":0.0015},{"s":"b26","x":240,"y":0.001},
{"s":"r1","x":95.5,"y":0},{"s":"r1","x":106.5,"y":0.0094},{"s":"r1","x":114.75,"y":0.0219},{"s":"r1","x":123,"y":0.029},{"s":"r1","x":131.25,"y":0.0219},{"s":"r1","x":139.5,"y":0.0094},{"s":"r1","x":150.5,"y":0},
{"s":"r2","x":105.5,"y":0},{"s":"r2","x":116.5,"y":0.0094},{"s":"r2","x":124.75,"y":0.0219},{"s":"r2","x":133,"y":0.029},{"s":"r2","x":141.25,"y":0.0219},{"s":"r2","x":149.5,"y":0.0094},{"s":"r2","x":160.5,"y":0},
{"s":"r3","x":91.5,"y":0},{"s":"r3","x":104.5,"y":0.0078},{"s":"r3","x":114.25,"y":0.0181},{"s":"r3","x":124,"y":0.024},{"s":"r3","x":133.75,"y":0.0181},{"s":"r3","x":143.5,"y":0.0078},{"s":"r3","x":156.5,"y":0},
{"s":"r4","x":101,"y":0},{"s":"r4","x":121,"y":0.0055},{"s":"r4","x":136,"y":0.0128},{"s":"r4","x":151,"y":0.017},{"s":"r4","x":166,"y":0.0128},{"s":"r4","x":181,"y":0.0055},{"s":"r4","x":201,"y":0.0015},{"s":"r4","x":240,"y":0.0008},
{"s":"r5","x":17,"y":0},{"s":"r5","x":39,"y":0.0059},{"s":"r5","x":55.5,"y":0.0136},{"s":"r5","x":72,"y":0.018},{"s":"r5","x":88.5,"y":0.0136},{"s":"r5","x":105,"y":0.0059},{"s":"r5","x":127,"y":0},
{"s":"r6","x":102,"y":0},{"s":"r6","x":114,"y":0.0081},{"s":"r6","x":123,"y":0.0189},{"s":"r6","x":132,"y":0.025},{"s":"r6","x":141,"y":0.0189},{"s":"r6","x":150,"y":0.0081},{"s":"r6","x":162,"y":0},
{"s":"r7","x":0,"y":0.0045},{"s":"r7","x":20,"y":0.005},{"s":"r7","x":45,"y":0.0065},{"s":"r7","x":70,"y":0.009},{"s":"r7","x":95,"y":0.011},{"s":"r7","x":120,"y":0.01},{"s":"r7","x":145,"y":0.007},{"s":"r7","x":175,"y":0.004},{"s":"r7","x":210,"y":0.0025},{"s":"r7","x":240,"y":0.002},
{"s":"r8","x":0,"y":0.0025},{"s":"r8","x":30,"y":0.004},{"s":"r8","x":60,"y":0.007},{"s":"r8","x":90,"y":0.012},{"s":"r8","x":115,"y":0.013},{"s":"r8","x":140,"y":0.009},{"s":"r8","x":165,"y":0.004},{"s":"r8","x":200,"y":0.0015},{"s":"r8","x":240,"y":0.001},
{"s":"r9","x":0,"y":0.001},{"s":"r9","x":30,"y":0.002},{"s":"r9","x":60,"y":0.006},{"s":"r9","x":90,"y":0.01},{"s":"r9","x":110,"y":0.0115},{"s":"r9","x":130,"y":0.009},{"s":"r9","x":160,"y":0.004},{"s":"r9","x":200,"y":0.0015},{"s":"r9","x":240,"y":0.001},
{"s":"r10","x":0,"y":0.002},{"s":"r10","x":30,"y":0.0045},{"s":"r10","x":60,"y":0.0085},{"s":"r10","x":80,"y":0.011},{"s":"r10","x":100,"y":0.01},{"s":"r10","x":125,"y":0.007},{"s":"r10","x":155,"y":0.003},{"s":"r10","x":200,"y":0.001},{"s":"r10","x":240,"y":0.0005},
{"s":"r11","x":47.5,"y":0},{"s":"r11","x":72.5,"y":0.0042},{"s":"r11","x":91.25,"y":0.0098},{"s":"r11","x":110,"y":0.013},{"s":"r11","x":128.75,"y":0.0098},{"s":"r11","x":147.5,"y":0.0042},{"s":"r11","x":172.5,"y":0},
{"s":"r12","x":85,"y":0},{"s":"r12","x":107,"y":0.0049},{"s":"r12","x":123.5,"y":0.0113},{"s":"r12","x":140,"y":0.015},{"s":"r12","x":156.5,"y":0.0113},{"s":"r12","x":173,"y":0.0049},{"s":"r12","x":195,"y":0},
{"s":"r13","x":0,"y":0.0035},{"s":"r13","x":30,"y":0.005},{"s":"r13","x":60,"y":0.007},{"s":"r13","x":90,"y":0.009},{"s":"r13","x":120,"y":0.0085},{"s":"r13","x":150,"y":0.006},{"s":"r13","x":180,"y":0.004},{"s":"r13","x":210,"y":0.003},{"s":"r13","x":240,"y":0.0025},
{"s":"r14","x":35,"y":0},{"s":"r14","x":59,"y":0.0046},{"s":"r14","x":77,"y":0.0106},{"s":"r14","x":95,"y":0.014},{"s":"r14","x":113,"y":0.0106},{"s":"r14","x":131,"y":0.0046},{"s":"r14","x":155,"y":0},
{"s":"r15","x":78,"y":0},{"s":"r15","x":94,"y":0.0065},{"s":"r15","x":106,"y":0.0151},{"s":"r15","x":118,"y":0.02},{"s":"r15","x":130,"y":0.0151},{"s":"r15","x":142,"y":0.0065},{"s":"r15","x":158,"y":0},
{"s":"r16","x":0,"y":0.0005},{"s":"r16","x":40,"y":0.002},{"s":"r16","x":70,"y":0.005},{"s":"r16","x":100,"y":0.008},{"s":"r16","x":130,"y":0.01},{"s":"r16","x":155,"y":0.008},{"s":"r16","x":180,"y":0.004},{"s":"r16","x":210,"y":0.002},{"s":"r16","x":240,"y":0.0015},
{"s":"r17","x":0,"y":0.003},{"s":"r17","x":30,"y":0.0045},{"s":"r17","x":60,"y":0.006},{"s":"r17","x":85,"y":0.0085},{"s":"r17","x":110,"y":0.0095},{"s":"r17","x":135,"y":0.0075},{"s":"r17","x":165,"y":0.004},{"s":"r17","x":200,"y":0.002},{"s":"r17","x":240,"y":0.0015},
{"s":"r18","x":0,"y":0.0015},{"s":"r18","x":30,"y":0.003},{"s":"r18","x":60,"y":0.0055},{"s":"r18","x":85,"y":0.0085},{"s":"r18","x":110,"y":0.01},{"s":"r18","x":135,"y":0.0085},{"s":"r18","x":165,"y":0.005},{"s":"r18","x":200,"y":0.002},{"s":"r18","x":240,"y":0.001},
{"s":"r19","x":73,"y":0},{"s":"r19","x":95,"y":0.0052},{"s":"r19","x":111.5,"y":0.0121},{"s":"r19","x":128,"y":0.016},{"s":"r19","x":144.5,"y":0.0121},{"s":"r19","x":161,"y":0.0052},{"s":"r19","x":183,"y":0},
{"s":"r20","x":30,"y":0},{"s":"r20","x":58,"y":0.0039},{"s":"r20","x":79,"y":0.0091},{"s":"r20","x":100,"y":0.012},{"s":"r20","x":121,"y":0.0091},{"s":"r20","x":142,"y":0.0039},{"s":"r20","x":170,"y":0},
{"s":"r21","x":0,"y":0.002},{"s":"r21","x":40,"y":0.003},{"s":"r21","x":70,"y":0.006},{"s":"r21","x":95,"y":0.0095},{"s":"r21","x":120,"y":0.011},{"s":"r21","x":145,"y":0.008},{"s":"r21","x":175,"y":0.0035},{"s":"r21","x":210,"y":0.0015},{"s":"r21","x":240,"y":0.001},
{"s":"r22","x":75,"y":0},{"s":"r22","x":101,"y":0.0042},{"s":"r22","x":120.5,"y":0.0098},{"s":"r22","x":140,"y":0.013},{"s":"r22","x":159.5,"y":0.0098},{"s":"r22","x":179,"y":0.0042},{"s":"r22","x":205,"y":0.0015},{"s":"r22","x":240,"y":0.0008},
{"s":"r23","x":0,"y":0.0025},{"s":"r23","x":25,"y":0.005},{"s":"r23","x":50,"y":0.009},{"s":"r23","x":70,"y":0.011},{"s":"r23","x":95,"y":0.0085},{"s":"r23","x":125,"y":0.0045},{"s":"r23","x":160,"y":0.0015},{"s":"r23","x":200,"y":0.0005},{"s":"r23","x":240,"y":0.0002},
{"s":"r24","x":70,"y":0},{"s":"r24","x":88,"y":0.0059},{"s":"r24","x":101.5,"y":0.0136},{"s":"r24","x":115,"y":0.018},{"s":"r24","x":128.5,"y":0.0136},{"s":"r24","x":142,"y":0.0059},{"s":"r24","x":160,"y":0},
{"s":"B","x":53.8,"y":0},{"s":"B","x":65,"y":0.0025},{"s":"B","x":75,"y":0.0066},{"s":"B","x":83.5,"y":0.0138},{"s":"B","x":90.6,"y":0.021},{"s":"B","x":97.5,"y":0.027},{"s":"B","x":103,"y":0.0255},{"s":"B","x":110,"y":0.0165},{"s":"B","x":118.7,"y":0.0086},{"s":"B","x":124,"y":0.0055},{"s":"B","x":130,"y":0.0066},{"s":"B","x":138.6,"y":0.0092},{"s":"B","x":144,"y":0.0077},{"s":"B","x":151,"y":0.0035},{"s":"B","x":160,"y":0.0009},{"s":"B","x":168,"y":0},
{"s":"R","x":-9.5,"y":0.0009},{"s":"R","x":0,"y":0.0007},{"s":"R","x":18.5,"y":0.0001},{"s":"R","x":32.5,"y":0},{"s":"R","x":54,"y":0.001},{"s":"R","x":63.6,"y":0.0035},{"s":"R","x":72,"y":0.0066},{"s":"R","x":80.6,"y":0.01},{"s":"R","x":89,"y":0.0123},{"s":"R","x":100.5,"y":0.013},{"s":"R","x":110,"y":0.0135},{"s":"R","x":116,"y":0.0145},{"s":"R","x":123,"y":0.0154},{"s":"R","x":130,"y":0.014},{"s":"R","x":138.6,"y":0.0096},{"s":"R","x":147,"y":0.0046},{"s":"R","x":157,"y":0.0015},{"s":"R","x":166.6,"y":0.0004},{"s":"R","x":183,"y":0}
]
},
"vconcat":[
{"width":546,"height":212,"data":{"name":"C"},
"encoding":{
"x":{"field":"x","type":"quantitative","scale":{"domain":[-9.75,221.75],"nice":false,"zero":false},"axis":{"values":[0,31,62,90,121,151,182,212],"labelExpr":"['Dec','Jan','Feb','Mar','Apr','May','Jun','Jul'][indexof([0,31,62,90,121,151,182,212], datum.value)]","title":null}},
"y":{"field":"y","type":"quantitative","scale":{"domain":[-0.006,0.156],"nice":false,"zero":false},"axis":{"values":[0,0.05,0.1,0.15],"format":".2f","title":"Probability density"}}},
"layer":[
{"transform":[{"filter":"test(/^b/, datum.s)"}],"mark":{"type":"line","interpolate":"monotone","strokeWidth":1,"color":"#5aaed6"},"encoding":{"detail":{"field":"s"}}},
{"transform":[{"filter":"test(/^r/, datum.s)"}],"mark":{"type":"line","interpolate":"monotone","strokeWidth":1,"color":"#cd716b"},"encoding":{"detail":{"field":"s"}}},
{"transform":[{"filter":"datum.s=='B'"}],"mark":{"type":"line","interpolate":"monotone","strokeWidth":4,"color":"#167f9e"}},
{"transform":[{"filter":"datum.s=='R'"}],"mark":{"type":"line","interpolate":"monotone","strokeWidth":4,"color":"#8e2a22"}},
{"transform":[{"filter":"datum.s=='b0' && datum.x==0"}],"mark":{"type":"rule","color":"#333","strokeWidth":1},"encoding":{"x":{"datum":0},"x2":{"datum":212},"y":{"datum":-0.006}}},
{"transform":[{"filter":"datum.s=='b0' && datum.x==0"}],"mark":{"type":"rule","color":"#333","strokeWidth":1},"encoding":{"x":{"datum":-9.75},"y":{"datum":0},"y2":{"datum":0.15}}},
{"transform":[{"filter":"datum.s=='b0' && datum.x==0"}],"mark":{"type":"rule","color":"#167f9e","strokeWidth":4},"encoding":{"x":{"datum":-3.4},"x2":{"datum":10.6},"y":{"datum":0.1401}}},
{"transform":[{"filter":"datum.s=='b0' && datum.x==0"}],"mark":{"type":"rule","color":"#8e2a22","strokeWidth":4},"encoding":{"x":{"datum":-3.4},"x2":{"datum":10.6},"y":{"datum":0.1202}}},
{"transform":[{"filter":"datum.s=='b0' && datum.x==0"}],"mark":{"type":"text","align":"left","baseline":"alphabetic","fontSize":21},"encoding":{"x":{"datum":11.9},"y":{"datum":0.1355},"text":{"value":"Species' FFD − current temp"}}},
{"transform":[{"filter":"datum.s=='b0' && datum.x==0"}],"mark":{"type":"text","align":"left","baseline":"alphabetic","fontSize":21},"encoding":{"x":{"datum":11.9},"y":{"datum":0.1163},"text":{"value":"Species' FFD − 4 °C higher"}}},
{"transform":[{"filter":"datum.s=='b0' && datum.x==0"}],"mark":{"type":"text","align":"right","baseline":"alphabetic","fontSize":23},"encoding":{"x":{"datum":231},"y":{"datum":0.1347},"text":{"value":"Concord"}}}
]},
{"width":546,"height":212,"data":{"name":"G"},
"encoding":{
"x":{"field":"x","type":"quantitative","scale":{"domain":[-9.75,221.75],"nice":false,"zero":false},"axis":{"values":[0,31,62,90,121,151,182,212],"labelExpr":"['Dec','Jan','Feb','Mar','Apr','May','Jun','Jul'][indexof([0,31,62,90,121,151,182,212], datum.value)]","title":null}},
"y":{"field":"y","type":"quantitative","scale":{"domain":[-0.006,0.156],"nice":false,"zero":false},"axis":{"values":[0,0.05,0.1,0.15],"format":".2f","title":"Probability density"}}},
"layer":[
{"transform":[{"filter":"test(/^b/, datum.s)"}],"mark":{"type":"line","interpolate":"monotone","strokeWidth":1,"color":"#5aaed6"},"encoding":{"detail":{"field":"s"}}},
{"transform":[{"filter":"test(/^r/, datum.s)"}],"mark":{"type":"line","interpolate":"monotone","strokeWidth":1,"color":"#cd716b"},"encoding":{"detail":{"field":"s"}}},
{"transform":[{"filter":"datum.s=='B'"}],"mark":{"type":"line","interpolate":"monotone","strokeWidth":4,"color":"#167f9e"}},
{"transform":[{"filter":"datum.s=='R'"}],"mark":{"type":"line","interpolate":"monotone","strokeWidth":4,"color":"#8e2a22"}},
{"transform":[{"filter":"datum.s=='b0' && datum.x==0"}],"mark":{"type":"rule","color":"#333","strokeWidth":1},"encoding":{"x":{"datum":0},"x2":{"datum":212},"y":{"datum":-0.006}}},
{"transform":[{"filter":"datum.s=='b0' && datum.x==0"}],"mark":{"type":"rule","color":"#333","strokeWidth":1},"encoding":{"x":{"datum":-9.75},"y":{"datum":0},"y2":{"datum":0.15}}},
{"transform":[{"filter":"datum.s=='b0' && datum.x==0"}],"mark":{"type":"text","align":"right","baseline":"alphabetic","fontSize":23},"encoding":{"x":{"datum":232.4},"y":{"datum":0.1347},"text":{"value":"Gothic"}}}
]},
{"width":546,"height":212,"data":{"name":"T"},
"encoding":{
"x":{"field":"x","type":"quantitative","scale":{"domain":[-9.75,221.75],"nice":false,"zero":false},"axis":{"values":[0,31,62,90,121,151,182,212],"labelExpr":"['Dec','Jan','Feb','Mar','Apr','May','Jun','Jul'][indexof([0,31,62,90,121,151,182,212], datum.value)]","title":"First flowering date","titleFontSize":23,"titlePadding":6}},
"y":{"field":"y","type":"quantitative","scale":{"domain":[-0.0024,0.0624],"nice":false,"zero":false},"axis":{"values":[0,0.01,0.02,0.03,0.04,0.05,0.06],"format":".2f","title":"Probability density"}}},
"layer":[
{"transform":[{"filter":"test(/^b/, datum.s)"}],"mark":{"type":"line","interpolate":"monotone","strokeWidth":1,"color":"#5aaed6"},"encoding":{"detail":{"field":"s"}}},
{"transform":[{"filter":"test(/^r/, datum.s)"}],"mark":{"type":"line","interpolate":"monotone","strokeWidth":1,"color":"#cd716b"},"encoding":{"detail":{"field":"s"}}},
{"transform":[{"filter":"datum.s=='B'"}],"mark":{"type":"line","interpolate":"monotone","strokeWidth":4,"color":"#167f9e"}},
{"transform":[{"filter":"datum.s=='R'"}],"mark":{"type":"line","interpolate":"monotone","strokeWidth":4,"color":"#8e2a22"}},
{"transform":[{"filter":"datum.s=='b0' && datum.x==0"}],"mark":{"type":"rule","color":"#333","strokeWidth":1},"encoding":{"x":{"datum":0},"x2":{"datum":212},"y":{"datum":-0.0024}}},
{"transform":[{"filter":"datum.s=='b0' && datum.x==0"}],"mark":{"type":"rule","color":"#333","strokeWidth":1},"encoding":{"x":{"datum":-9.75},"y":{"datum":0},"y2":{"datum":0.06}}},
{"transform":[{"filter":"datum.s=='b0' && datum.x==0"}],"mark":{"type":"text","align":"right","baseline":"alphabetic","fontSize":23},"encoding":{"x":{"datum":232.4},"y":{"datum":0.0541},"text":{"value":"Tucson"}}}
]}
],
"spacing":54,
"bounds":"flush"
}
